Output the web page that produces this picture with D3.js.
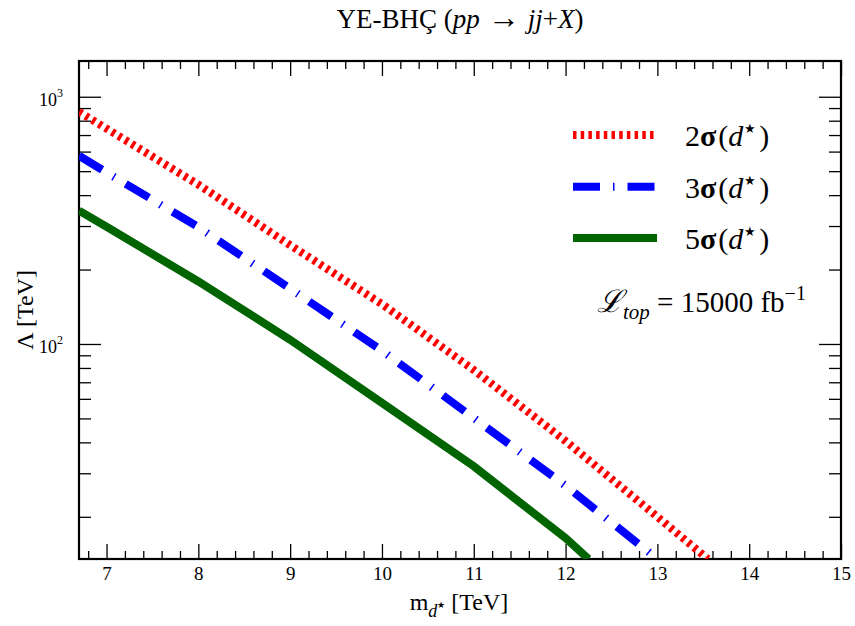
<!DOCTYPE html>
<html><head><meta charset="utf-8">
<script src="https://cdn.jsdelivr.net/npm/d3@7"></script>
<style>body{margin:0;background:#fff}svg{display:block}svg text{font-family:"Liberation Serif","Times New Roman",serif !important;fill:#000}</style>
</head><body><svg id="c" width="855" height="626"></svg>
<script>
const massRed = [6.7, 7, 8, 9, 10, 11, 12, 13, 13.55];
const lambdaRed = [869, 743, 441, 251, 145, 78.5, 40.5, 20, 13.5];
const massBlue = [6.7, 7, 8, 9, 10, 11, 12, 13];
const lambdaBlue = [577, 494, 297, 167.5, 94, 50.2, 26.7, 13.5];
const massGreen = [6.7, 7, 8, 9, 10, 11, 12, 12.25];
const lambdaGreen = [346, 298, 179, 104, 57.8, 32, 16.4, 13.5];
const seriesLabels = ["2", "3", "5"];
const xMajor = [7, 8, 9, 10, 11, 12, 13, 14, 15];
const yMajor = [100, 1000];
const yMajorExp = ["2", "3"];

const svg = d3.select("#c");
const L = 79, R = 841, T = 61, B = 559;
const x = d3.scaleLinear().domain([6.7, 15]).range([L, R]);
const y = d3.scaleLog().domain([13.5, 1395]).range([B, T]);

const xMinor = d3.range(6.8, 15.001, 0.2).map(v => +v.toFixed(1)).filter(v => !xMajor.includes(v));
const yMinor = [];
[10, 100].forEach(d => { for (let k = 2; k <= 9; k++) { const v = d * k; if (v >= 13.5 && v <= 1395) yMinor.push(v); } });

function ax(gen, tr) {
  const g = svg.append("g").attr("transform", tr).call(gen);
  g.attr("font-family", null);
  g.select(".domain").remove();
  g.selectAll(".tick line").attr("stroke", "#000").attr("stroke-width", 1.3);
  return g;
}
// bottom
const gb = ax(d3.axisBottom(x).tickValues(xMajor).tickSize(-15).tickFormat(d3.format("d")), `translate(0,${B})`);
gb.selectAll("text").attr("font-size", 19).attr("dy", 0).attr("y", 21);
ax(d3.axisBottom(x).tickValues(xMinor).tickSize(-8).tickFormat(""), `translate(0,${B})`);
// top
ax(d3.axisTop(x).tickValues(xMajor).tickSize(-15).tickFormat(""), `translate(0,${T})`);
ax(d3.axisTop(x).tickValues(xMinor).tickSize(-8).tickFormat(""), `translate(0,${T})`);
// left
ax(d3.axisLeft(y).tickValues(yMajor).tickSize(-22).tickFormat(""), `translate(${L},0)`);
ax(d3.axisLeft(y).tickValues(yMinor).tickSize(-12).tickFormat(""), `translate(${L},0)`);
// right
ax(d3.axisRight(y).tickValues(yMajor).tickSize(-22).tickFormat(""), `translate(${R},0)`);
ax(d3.axisRight(y).tickValues(yMinor).tickSize(-12).tickFormat(""), `translate(${R},0)`);

// y tick labels
yMajor.forEach((v, i) => {
  const t = svg.append("text").attr("x", 63).attr("y", y(v) + 9.5).attr("text-anchor", "end").attr("font-size", 18);
  t.append("tspan").text("10");
  t.append("tspan").attr("font-size", 12).attr("dy", -9).text(yMajorExp[i]);
});

// frame
svg.append("rect").attr("x", L).attr("y", T).attr("width", R - L).attr("height", B - T)
  .attr("fill", "none").attr("stroke", "#000").attr("stroke-width", 2.2);

// clip
svg.append("clipPath").attr("id", "pc").append("rect").attr("x", L).attr("y", T).attr("width", R - L).attr("height", B - T);

const styles = [
  { color: "#ff0000", dash: "3.5,4.2" },
  { color: "#0000ff", dash: "27,13,1.5,13" },
  { color: "#006400", dash: null }
];
const sets = [[massRed, lambdaRed], [massBlue, lambdaBlue], [massGreen, lambdaGreen]];
const line = d3.line().x(d => x(d[0])).y(d => y(d[1]));
sets.forEach((s, i) => {
  const pts = s[0].map((m, j) => [m, s[1][j]]);
  svg.append("path").attr("d", line(pts)).attr("clip-path", "url(#pc)")
    .attr("fill", "none").attr("stroke", styles[i].color).attr("stroke-width", 8)
    .attr("stroke-dasharray", styles[i].dash).attr("stroke-linecap", "butt");
});

// legend
const legY = [135, 186.7, 238];
seriesLabels.forEach((lab, i) => {
  svg.append("line").attr("x1", 573).attr("x2", 657).attr("y1", legY[i]).attr("y2", legY[i])
    .attr("stroke", styles[i].color).attr("stroke-width", 8).attr("stroke-dasharray", styles[i].dash);
  const t = svg.append("text").attr("x", 685).attr("y", legY[i] + 11).attr("font-size", 30);
  t.append("tspan").text(lab);
  t.append("tspan").attr("font-weight", "bold").text("σ");
  t.append("tspan").attr("dx", 2).text("(");
  t.append("tspan").attr("font-style", "italic").text("d");
  t.append("tspan").attr("font-size", 13).attr("dy", -13).attr("dx", 1).text("★");
  t.append("tspan").attr("dy", 13).attr("dx", 3).text(")");
});

// luminosity
const lt = svg.append("text").attr("x", 597).attr("y", 312).attr("font-size", 29);
lt.append("tspan").attr("font-style", "italic").attr("font-size", 31).text("ℒ");
lt.append("tspan").attr("font-style", "italic").attr("font-size", 21).attr("dy", 7).text("top");
lt.append("tspan").attr("dy", -7).text(" = 15000 fb");
lt.append("tspan").attr("font-size", 20).attr("dy", -12).text("−1");

// title
const tt = svg.append("text").attr("x", 460).attr("y", 28).attr("text-anchor", "middle").attr("font-size", 27);
tt.append("tspan").text("YE-BHÇ (");
tt.append("tspan").attr("font-style", "italic").text("pp");
tt.append("tspan").attr("font-size", 32).text(" → ");
tt.append("tspan").attr("font-style", "italic").text("jj");
tt.append("tspan").text("+");
tt.append("tspan").attr("font-style", "italic").text("X");
tt.append("tspan").text(")");

// x label
const xl = svg.append("text").attr("x", 459).attr("y", 610).attr("text-anchor", "middle").attr("font-size", 24);
xl.append("tspan").text("m");
xl.append("tspan").attr("font-style", "italic").attr("font-size", 18).attr("dy", 7).text("d");
xl.append("tspan").attr("font-size", 9).attr("dy", -9).text("★");
xl.append("tspan").attr("dy", 2).text(" [TeV]");

// y label
svg.append("text").attr("transform", `translate(33,${(T + B) / 2}) rotate(-90)`)
  .attr("text-anchor", "middle").attr("font-size", 24).text("Λ [TeV]");
</script></body></html>
